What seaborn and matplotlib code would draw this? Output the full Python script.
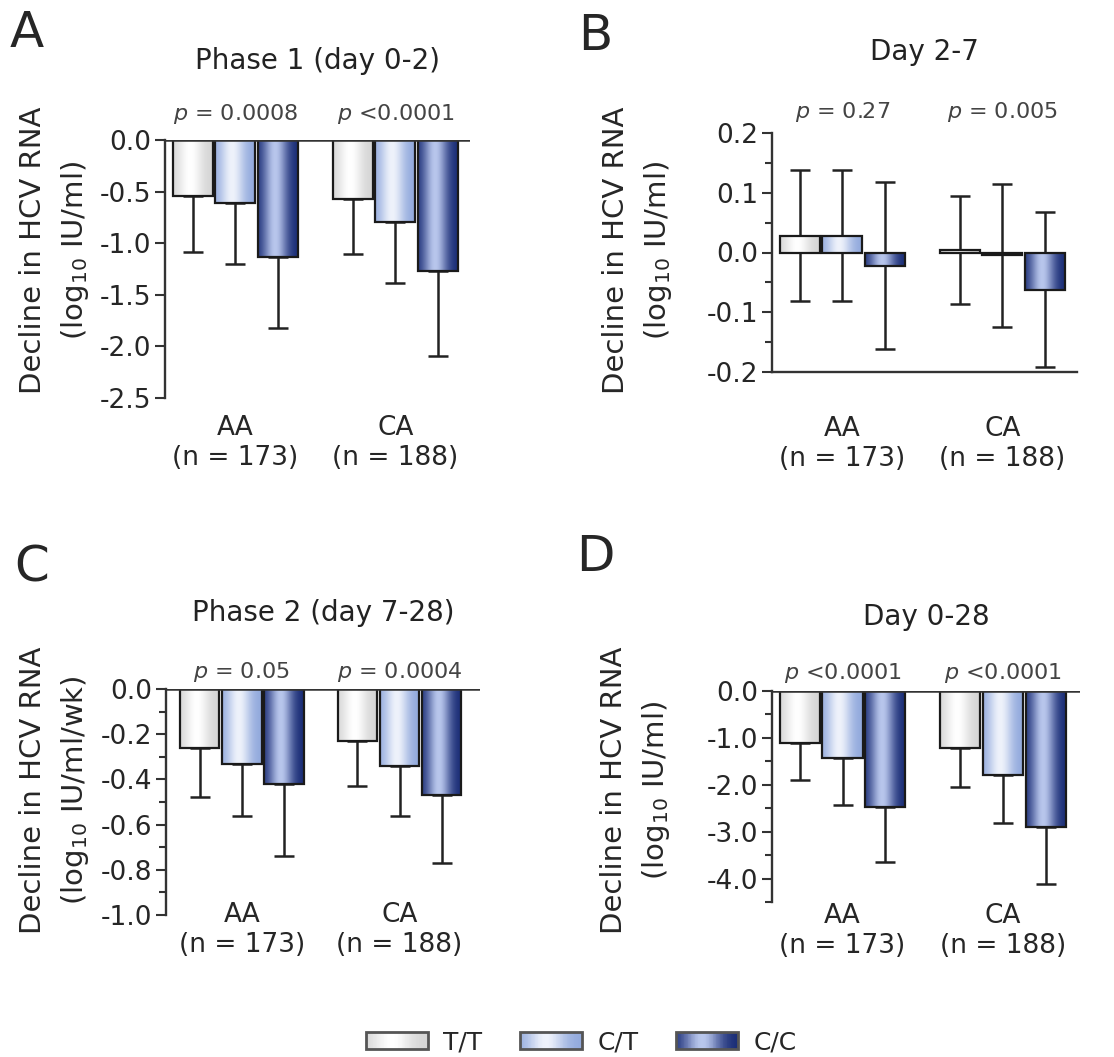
import numpy as np
import pandas as pd
import seaborn as sns
import matplotlib.pyplot as plt
from matplotlib.colors import LinearSegmentedColormap
from matplotlib.patches import Rectangle
from matplotlib.legend_handler import HandlerBase

sns.set_style('ticks')
plt.rcParams['font.family'] = ['DejaVu Sans']
plt.rcParams['axes.unicode_minus'] = False

# data
groups = ['AA\n(n = 173)', 'CA\n(n = 188)']
genotypes = ['T/T', 'C/T', 'C/C']

# rows = AA, CA ; cols = T/T, C/T, C/C
phase1_mean = [[-0.54, -0.61, -1.13], [-0.57, -0.79, -1.27]]
phase1_sd = [[0.55, 0.59, 0.69], [0.53, 0.60, 0.82]]
day2_7_mean = [[0.028, 0.028, -0.022], [0.004, -0.005, -0.062]]
day2_7_sd = [[0.11, 0.11, 0.14], [0.09, 0.12, 0.13]]
phase2_mean = [[-0.26, -0.33, -0.42], [-0.23, -0.34, -0.47]]
phase2_sd = [[0.22, 0.23, 0.32], [0.20, 0.22, 0.30]]
day0_28_mean = [[-1.11, -1.43, -2.48], [-1.22, -1.80, -2.89]]
day0_28_sd = [[0.79, 1.01, 1.16], [0.83, 1.02, 1.22]]

titles = ['Phase 1 (day 0-2)', 'Day 2-7', 'Phase 2 (day 7-28)', 'Day 0-28']
letters = ['A', 'B', 'C', 'D']
pvalues = [['$p$ = 0.0008', '$p$ <0.0001'],
           ['$p$ = 0.27', '$p$ = 0.005'],
           ['$p$ = 0.05', '$p$ = 0.0004'],
           ['$p$ <0.0001', '$p$ <0.0001']]
ylabels = ['Decline in HCV RNA\n(log$_{10}$ IU/ml)',
           'Decline in HCV RNA\n(log$_{10}$ IU/ml)',
           'Decline in HCV RNA\n(log$_{10}$ IU/ml/wk)',
           'Decline in HCV RNA\n(log$_{10}$ IU/ml)']
means = [phase1_mean, day2_7_mean, phase2_mean, day0_28_mean]
sds = [phase1_sd, day2_7_sd, phase2_sd, day0_28_sd]

# layout (figure pixels converted below)
W, H = 1114, 1057
layout = [
    dict(box=(165, 140, 470, 398), ylim=(-2.5, 0), major=np.arange(0, -2.51, -0.5), minor=None,
         xlim=(-0.44, 1.466), pad=12, poff=19, toff=57, letter=(27, 33), ylab=(55, 250), both=False),
    dict(box=(772, 133, 1077, 372), ylim=(-0.2, 0.2), major=np.arange(0.2, -0.21, -0.1),
         minor=np.arange(0.15, -0.16, -0.1), xlim=(-0.44, 1.466), pad=32, poff=15, toff=58,
         letter=(595, 36), ylab=(638, 250), both=True),
    dict(box=(166, 689, 480, 915), ylim=(-1.0, 0), major=np.arange(0, -1.01, -0.2),
         minor=np.arange(-0.1, -1.0, -0.2), xlim=(-0.48, 1.51), pad=-9, poff=12, toff=55,
         letter=(32, 567), ylab=(55, 790), both=False),
    dict(box=(772, 691, 1080, 902), ylim=(-4.5, 0), major=np.arange(0, -4.01, -1.0),
         minor=np.arange(-0.5, -4.6, -1.0), xlim=(-0.44, 1.48), pad=1, poff=13, toff=53,
         letter=(595, 557), ylab=(636, 790), both=False),
]

edge_cols = {'T/T': '#d4d4d4', 'C/T': '#90a8dc', 'C/C': '#172a74'}
high_cols = {'T/T': '#ffffff', 'C/T': '#eef2fb', 'C/C': '#b8c6ec'}
cmaps = {k: LinearSegmentedColormap.from_list(k, [edge_cols[k], high_cols[k]]) for k in genotypes}
mid_cols = {k: cmaps[k](0.4) for k in genotypes}

t = np.linspace(0, 1, 80)
shade = np.exp(-((t - 0.42) / 0.3) ** 2)[None, :]


def make_df(mean, sd):
    rows = []
    for gi, g in enumerate(groups):
        for ki, k in enumerate(genotypes):
            rows.append((g, k, mean[gi][ki], sd[gi][ki]))
    return pd.DataFrame(rows, columns=['group', 'genotype', 'value', 'sd'])


fig = plt.figure(figsize=(W / 100, H / 100), dpi=100)

for i in range(4):
    lay = layout[i]
    x0, y0, x1, y1 = lay['box']
    ax = fig.add_axes([x0 / W, 1 - y1 / H, (x1 - x0) / W, (y1 - y0) / H])
    df = make_df(means[i], sds[i])

    sns.barplot(data=df, x='group', y='value', hue='genotype', order=groups,
                hue_order=genotypes, palette=mid_cols, errorbar=None, legend=False,
                gap=0.06, edgecolor='#1a1a1a', linewidth=1.6, zorder=3, ax=ax)

    for cont, k in zip(ax.containers, genotypes):
        sub = df[df.genotype == k].set_index('group').loc[groups]
        bars = sorted(cont.patches, key=lambda b: b.get_x())
        xs = []
        for b in bars:
            b.set_facecolor('none')
            bx, bw = b.get_x(), b.get_width()
            by0, by1 = sorted([b.get_y(), b.get_y() + b.get_height()])
            im = ax.imshow(shade, extent=[bx, bx + bw, by0, by1], aspect='auto',
                           cmap=cmaps[k], vmin=0, vmax=1, zorder=2.8,
                           interpolation='bilinear')
            im.set_clip_path(b)
            xs.append(bx + bw / 2)
        if lay['both']:
            yerr = sub['sd'].values
        else:
            yerr = [sub['sd'].values, np.zeros(len(sub))]
        ax.errorbar(xs, sub['value'].values, yerr=yerr, fmt='none', ecolor='#222222',
                    elinewidth=1.8, capsize=7, capthick=1.8, zorder=2)

    if not lay['both']:
        ax.axhline(0, color='#333333', lw=1.8, zorder=4)

    ax.set_xlim(*lay['xlim'])
    ax.set_ylim(*lay['ylim'])
    ax.set_yticks(lay['major'])
    ax.set_yticklabels([f'{v:.1f}'.replace('-0.0', '0.0') for v in lay['major']])
    if lay['minor'] is not None:
        ax.set_yticks(lay['minor'], minor=True)
    ax.tick_params(axis='y', which='major', direction='out', length=7, width=1.5,
                   labelsize=19, color='#333333', pad=3)
    ax.tick_params(axis='y', which='minor', direction='out', length=5, width=1.5,
                   color='#333333')
    ax.tick_params(axis='x', length=0, pad=lay['pad'], labelsize=19)
    ax.set_xlabel('')
    ax.set_ylabel('')

    sns.despine(ax=ax, top=True, right=True, bottom=not lay['both'])
    for s in ['left', 'bottom']:
        ax.spines[s].set_linewidth(1.7)
        ax.spines[s].set_color('#333333')

    for xt, p in zip(ax.get_xticks(), pvalues[i]):
        ax.annotate(p, xy=(xt, 1), xycoords=('data', 'axes fraction'),
                    xytext=(0, lay['poff']), textcoords='offset points',
                    ha='center', va='center', fontsize=16, color='#444444')
    ax.annotate(titles[i], xy=(0.5, 1), xycoords='axes fraction',
                xytext=(0, lay['toff']), textcoords='offset points',
                ha='center', va='center', fontsize=20, color='#222222')

    lx, ly = lay['letter']
    fig.text(lx / W, 1 - ly / H, letters[i], fontsize=36, ha='center', va='center')
    yx, yy = lay['ylab']
    fig.text(yx / W, 1 - yy / H, ylabels[i], fontsize=21, rotation=90,
             ha='center', va='center', multialignment='center', linespacing=1.5)


class GradientHandler(HandlerBase):
    def __init__(self, cmap):
        super().__init__()
        self.cmap = cmap

    def create_artists(self, legend, orig_handle, xdescent, ydescent, width, height,
                       fontsize, trans):
        arts = []
        n = len(t)
        for j in range(n):
            arts.append(Rectangle((-xdescent + width * j / n, -ydescent), width / n + 0.3,
                                  height, facecolor=self.cmap(shade[0, j]),
                                  edgecolor='none', transform=trans))
        arts.append(Rectangle((-xdescent, -ydescent), width, height, fill=False,
                              edgecolor='#555555', lw=2, transform=trans))
        return arts


handles = [Rectangle((0, 0), 1, 1) for k in genotypes]
hmap = {h: GradientHandler(cmaps[k]) for h, k in zip(handles, genotypes)}
fig.legend(handles, genotypes, handler_map=hmap, loc='center',
           bbox_to_anchor=(581 / W, 1 - 1042 / H), ncol=3, frameon=False,
           fontsize=18, handlelength=2.5, handleheight=0.65, handletextpad=0.6,
           columnspacing=1.5)

fig.savefig('out.png', dpi=100)
